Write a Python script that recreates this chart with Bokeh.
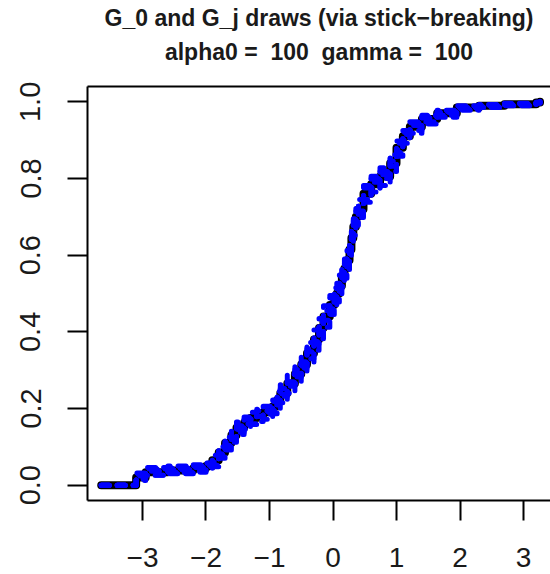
from bokeh.plotting import figure
from bokeh.models import Range1d, FixedTicker, LinearAxis
from bokeh.embed import file_html
from bokeh.resources import INLINE

# atoms shared by G_0 and the G_j draws
atoms = [-3.65, -3.1, -2.95, -2.6, -2.2, -2.0, -1.9, -1.8, -1.7, -1.6, -1.52, -1.4, -1.3, -1.2,
         -1.1, -0.95, -0.88, -0.83, -0.72, -0.6, -0.5, -0.41, -0.3, -0.22, -0.15, -0.05, 0.02,
         0.06, 0.1, 0.14, 0.18, 0.22, 0.26, 0.29, 0.32, 0.36, 0.4, 0.48, 0.6, 0.74, 0.9, 1.0,
         1.1, 1.21, 1.4, 1.64, 1.95, 2.3, 2.7, 3.2, 3.26]

g0 = [0.0, 0.02, 0.034, 0.038, 0.044, 0.05, 0.065, 0.085, 0.11, 0.13, 0.15, 0.163, 0.175, 0.183,
      0.19, 0.205, 0.222, 0.24, 0.265, 0.29, 0.315, 0.344, 0.38, 0.41, 0.44, 0.47, 0.49,
      0.50, 0.52, 0.545, 0.565, 0.587, 0.615, 0.645, 0.674, 0.70, 0.72, 0.76, 0.785, 0.805, 0.84, 0.88,
      0.91, 0.935, 0.955, 0.97, 0.985, 0.99, 0.994, 0.998, 1.0]

g1 = [0.0, 0.028, 0.042, 0.045, 0.05, 0.058, 0.078, 0.1, 0.125, 0.148, 0.165, 0.178, 0.19, 0.198,
      0.206, 0.222, 0.245, 0.262, 0.29, 0.315, 0.34, 0.372, 0.405, 0.435, 0.468, 0.495, 0.515,
      0.527, 0.548, 0.575, 0.59, 0.612, 0.642, 0.668, 0.695, 0.722, 0.745, 0.782, 0.806, 0.828, 0.862, 0.898,
      0.925, 0.948, 0.965, 0.978, 0.99, 0.993, 0.996, 0.999, 1.0]

g2 = [0.0, 0.012, 0.026, 0.03, 0.036, 0.04, 0.052, 0.07, 0.092, 0.112, 0.132, 0.146, 0.158, 0.166,
      0.172, 0.186, 0.2, 0.215, 0.24, 0.265, 0.29, 0.318, 0.352, 0.382, 0.412, 0.445, 0.465,
      0.478, 0.495, 0.518, 0.54, 0.562, 0.59, 0.622, 0.652, 0.678, 0.698, 0.738, 0.765, 0.782, 0.818, 0.858,
      0.892, 0.918, 0.942, 0.96, 0.978, 0.985, 0.99, 0.996, 1.0]

g3 = [0.0, 0.024, 0.046, 0.05, 0.053, 0.057, 0.06, 0.092, 0.104, 0.14, 0.145, 0.172, 0.172, 0.194,
      0.194, 0.218, 0.222, 0.252, 0.258, 0.302, 0.305, 0.356, 0.368, 0.425, 0.43, 0.488, 0.488,
      0.512, 0.512, 0.562, 0.562, 0.6, 0.61, 0.662, 0.665, 0.715, 0.715, 0.775, 0.775, 0.818, 0.832, 0.892,
      0.9, 0.945, 0.948, 0.975, 0.98, 0.992, 0.992, 0.999, 1.0]

g4 = [0.0, 0.016, 0.026, 0.034, 0.034, 0.048, 0.048, 0.08, 0.1, 0.122, 0.138, 0.158, 0.16, 0.18,
      0.185, 0.195, 0.215, 0.232, 0.27, 0.282, 0.31, 0.33, 0.385, 0.4, 0.455, 0.46, 0.5,
      0.5, 0.535, 0.54, 0.58, 0.58, 0.628, 0.64, 0.69, 0.692, 0.735, 0.745, 0.8, 0.8, 0.852, 0.868,
      0.92, 0.925, 0.962, 0.965, 0.986, 0.987, 0.995, 0.997, 1.0]

g5 = [0.0, 0.032, 0.036, 0.04, 0.046, 0.052, 0.07, 0.082, 0.112, 0.125, 0.155, 0.16, 0.18, 0.18,
      0.19, 0.21, 0.228, 0.238, 0.268, 0.292, 0.322, 0.348, 0.375, 0.415, 0.445, 0.478, 0.485,
      0.505, 0.525, 0.542, 0.57, 0.592, 0.61, 0.65, 0.68, 0.705, 0.728, 0.755, 0.79, 0.81, 0.845, 0.875,
      0.915, 0.938, 0.958, 0.972, 0.984, 0.991, 0.993, 0.998, 1.0]

x_ticks = [-3, -2, -1, 0, 1, 2, 3]
x_tick_labels = ["\u22123", "\u22122", "\u22121", "0", "1", "2", "3"]
y_ticks = [0.0, 0.2, 0.4, 0.6, 0.8, 1.0]
y_tick_labels = ["0.0", "0.2", "0.4", "0.6", "0.8", "1.0"]

title_main = "G_0 and G_j draws (via stick\u2212breaking)"
title_sub = "alpha0 = \u00a0100 \u00a0gamma = \u00a0100"

FONT = "Liberation Sans"

p = figure(width=550, height=574, output_backend="svg", toolbar_location=None, title=None,
           x_axis_location=None, y_axis_location=None,
           x_range=Range1d(-3.866, 3.425), y_range=Range1d(-0.04, 1.04),
           min_border_left=87, min_border_right=0, min_border_top=86, min_border_bottom=74,
           background_fill_color="white", border_fill_color="white")

p.outline_line_color = None
p.xgrid.visible = False
p.ygrid.visible = False

xaxis = LinearAxis(ticker=FixedTicker(ticks=x_ticks))
yaxis = LinearAxis(ticker=FixedTicker(ticks=y_ticks))
for ax, ticks, labels in ((xaxis, x_ticks, x_tick_labels), (yaxis, y_ticks, y_tick_labels)):
    ax.major_label_overrides = {t: l for t, l in zip(ticks, labels)}
    ax.axis_line_color = "black"
    ax.axis_line_width = 2
    ax.major_tick_line_color = "black"
    ax.major_tick_line_width = 2
    ax.major_tick_in = 0
    ax.major_tick_out = 20
    ax.minor_tick_line_color = None
    ax.major_label_text_font = FONT
    ax.major_label_text_color = "#1a1a1a"
xaxis.major_label_text_font_size = "28px"
yaxis.major_label_text_font_size = "29px"
xaxis.major_label_standoff = 27
xaxis.major_label_text_line_height = 0.7
yaxis.major_label_standoff = 27
yaxis.major_label_orientation = "vertical"
p.add_layout(xaxis, "below")
p.add_layout(yaxis, "left")

# top border line of the box, carrying the two-line title as its label
top = LinearAxis(ticker=FixedTicker(ticks=[]), axis_line_color="black", axis_line_width=2,
                 major_tick_line_color=None, minor_tick_line_color=None,
                 major_tick_out=0, major_tick_in=0, major_label_standoff=0,
                 major_label_text_font_size="1px",
                 axis_label=title_main + "\n" + title_sub,
                 axis_label_standoff=22, axis_label_text_font=FONT,
                 axis_label_text_font_style="bold", axis_label_text_font_size="23px",
                 axis_label_text_color="#1a1a1a", axis_label_text_line_height=1.3)
p.add_layout(top, "above")

p.step(atoms, g0, mode="after", line_color="black", line_width=8,
       line_cap="round", line_join="round")

for g in (g1, g2, g3, g4, g5):
    p.step(atoms, g, mode="after", line_color="#0000FF", line_width=5,
           line_dash="8 8", line_cap="round", line_join="round")

open("out.html", "w").write(file_html(p, INLINE))
